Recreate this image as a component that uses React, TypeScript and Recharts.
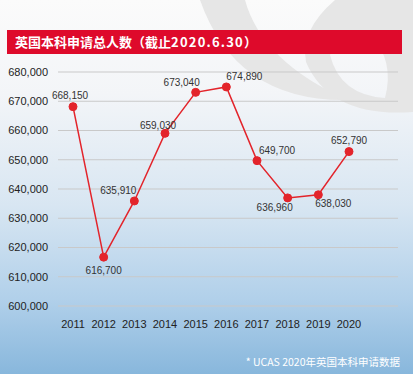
import React from 'react';
import { LineChart, Line, XAxis, YAxis, CartesianGrid, LabelList } from 'recharts';

const years = ['2011', '2012', '2013', '2014', '2015', '2016', '2017', '2018', '2019', '2020'];
const applicants = [668150, 616700, 635910, 659030, 673040, 674890, 649700, 636960, 638030, 652790];
const yTicks = [600000, 610000, 620000, 630000, 640000, 650000, 660000, 670000, 680000];

// where each value label sits relative to its dot
const labelOffsets: [number, number][] = [
  [-3, -10], [0, 14], [-16, -10], [-7, -7], [-14, -9],
  [18, -10], [20, -9], [-13, 10], [15, 10], [0, -10],
];

const data = years.map((year, i) => ({ year, value: applicants[i] }));

const fmt = (v: number) => v.toLocaleString('en-US');

const ValueLabel = (props: any) => {
  const { x, y, value, index } = props;
  const [dx, dy] = labelOffsets[index] || [0, -10];
  return (
    <text
      x={x + dx}
      y={y + dy}
      textAnchor="middle"
      dominantBaseline="middle"
      fontSize={10}
      fill="#333"
      fontFamily="'Liberation Sans', Arial, sans-serif"
    >
      {fmt(value)}
    </text>
  );
};

const App: React.FC = () => {
  return (
    <div
      style={{
        position: 'fixed',
        left: 0,
        top: 0,
        width: 413,
        height: 374,
        overflow: 'hidden',
        background: 'linear-gradient(to bottom, #fbfbfb 0%, #f3f5f8 25%, #d8e6f2 55%, #b1d0ea 80%, #88b7dc 100%)',
      }}
    >
      {/* faint watermark shapes behind the chart */}
      <svg width={413} height={374} style={{ position: 'absolute', left: 0, top: 0 }}>
        <path d="M 200 0 L 245 0 Q 262 62 348 100 Q 236 102 200 0 Z" fill="#e6e6e6" />
        <path
          d="M 335 0 L 413 0 L 413 112 Q 330 118 306 62 Q 300 30 335 0 Z M 330 55 Q 340 95 385 98 Q 395 60 370 35 Q 340 28 330 55 Z"
          fill="#e6e6e6"
          fillRule="evenodd"
        />
      </svg>
      <div
        style={{
          position: 'absolute',
          left: 7,
          top: 30,
          width: 395,
          height: 24,
          background: '#de0a2b',
          color: '#fff',
          fontFamily: "'Noto Sans CJK SC', sans-serif",
          fontWeight: 700,
          fontSize: 13,
          lineHeight: '24px',
          paddingLeft: 8,
          boxSizing: 'border-box',
          whiteSpace: 'nowrap',
        }}
      >
        英国本科申请总人数（截止<span style={{ letterSpacing: 1.2 }}>2020.6.30</span>）
      </div>
      <div style={{ position: 'absolute', left: 0, top: 0 }}>
        <LineChart width={413} height={374} data={data} margin={{ top: 72, right: 15, bottom: 38, left: 0 }}>
          <CartesianGrid vertical={false} stroke="#c9c9c9" strokeWidth={1} />
          <XAxis
            dataKey="year"
            axisLine={false}
            tickLine={false}
            height={30}
            tickMargin={8}
            padding={{ left: 15, right: 49 }}
            tick={{ fontSize: 11, fill: '#222', fontFamily: "'Liberation Sans', Arial, sans-serif" }}
          />
          <YAxis
            domain={[600000, 680000]}
            ticks={yTicks}
            axisLine={false}
            tickLine={false}
            width={58}
            tickMargin={0}
            tickFormatter={fmt}
            tick={{ fontSize: 11, fill: '#222', dx: -4, fontFamily: "'Liberation Sans', Arial, sans-serif" }}
          />
          <Line
            type="linear"
            dataKey="value"
            stroke="#e3242b"
            strokeWidth={1.5}
            dot={{ r: 4, fill: '#e3242b', stroke: '#e3242b', strokeWidth: 1 }}
            isAnimationActive={false}
          >
            <LabelList dataKey="value" content={ValueLabel} />
          </Line>
        </LineChart>
      </div>
      <div
        style={{
          position: 'absolute',
          right: 13,
          top: 354,
          color: '#fff',
          fontSize: 10.5,
          fontFamily: "'Noto Sans CJK SC', sans-serif",
          lineHeight: '16px',
          whiteSpace: 'nowrap',
        }}
      >
        * UCAS 2020年英国本科申请数据
      </div>
    </div>
  );
};

export default App;
